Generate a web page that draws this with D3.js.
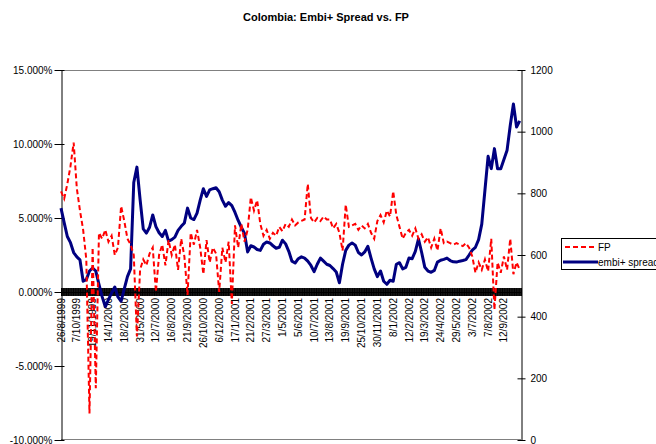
<!DOCTYPE html>
<html>
<head>
<meta charset="utf-8">
<script src="https://cdn.jsdelivr.net/npm/d3@7"></script>
<style>
  body { margin: 0; background: #fff; }
  svg { font-family: "Liberation Sans", Arial, Helvetica, sans-serif; }
  .axis text { font-size: 10px; fill: #000; }
  .axis path, .axis line { stroke: #000; }
</style>
</head>
<body>
<div id="chart"></div>
<script>
// Data: one value every 5 trading days, 26/8/1999 .. 9/2002
var obsStep = 5;
var obsCount = 727;
var labelStep = 25;

var dateLabels = ["26/8/1999", "7/10/1999", "19/11/1999", "14/1/2000", "18/2/2000", "31/5/2000",
    "12/7/2000", "16/8/2000", "21/9/2000", "26/10/2000", "6/12/2000", "17/1/2001", "21/2/2001",
    "27/3/2001", "1/5/2001", "5/6/2001", "10/7/2001", "13/8/2001", "19/9/2001", "25/10/2001",
    "30/11/2001", "8/1/2002", "12/2/2002", "19/3/2002", "24/4/2002", "29/5/2002", "3/7/2002",
    "7/8/2002", "12/9/2002"];

// FP, in percent (left axis)
var fpValues = [
    6.8, 6.3, 7.3, 8.5, 10.1, 7.0, 5.5, 4.2, 2.2, -8.2,
    3.0, -6.5, 4.0, 3.6, 4.2, 3.4, 3.8, 2.5, 3.0, 5.8,
    4.8, 3.6, 3.2, 2.5, -3.0, 1.5, 2.2, 1.8, 2.6, 3.0,
    0.0, 2.5, 3.2, 1.8, 3.5, 2.5, 3.2, 1.5, 3.6, 2.4,
    -0.2, 4.0, 3.2, 4.2, 3.0, 1.2, 3.5, 2.0, 3.0, 2.6,
    0.0, 3.0, 2.0, 3.4, -0.8, 4.5, 3.0, 4.6, 3.4, 4.2,
    6.4, 5.5, 6.2, 4.6, 3.8, 4.2, 3.6, 4.0, 3.8, 4.4,
    4.1, 4.6, 4.4, 4.9, 4.5, 4.7, 4.8, 4.9, 7.3, 5.0,
    4.7, 5.0, 4.8, 5.1, 4.9, 4.9, 4.3, 4.6, 4.0, 2.8,
    5.9, 4.4, 4.5, 4.6, 4.2, 4.5, 4.3, 4.6, 4.0, 3.6,
    4.8, 5.2, 4.7, 5.5, 5.1, 6.8, 5.2, 4.4, 3.6, 4.0,
    4.2, 3.8, 4.3, 3.6, 3.9, 3.4, 3.7, 3.0, 3.6, 2.8,
    4.3, 3.3, 3.4, 3.3, 3.2, 3.3, 3.2, 3.1, 3.3, 3.0,
    2.4, 1.3, 2.0, 1.5, 2.2, 1.4, 3.6, -1.2, 2.0, 1.3,
    2.4, 1.5, 3.6, 1.2, 2.0, 1.5];

// embi+ spread, basis points (right axis)
var embiValues = [
    752, 705, 660, 640, 608, 594, 584, 515, 520, 548,
    558, 548, 505, 465, 432, 455, 477, 496, 464, 450,
    490, 530, 555, 835, 885, 780, 685, 671, 690, 730,
    692, 672, 660, 680, 645, 650, 658, 680, 693, 704,
    752, 720, 715, 736, 778, 815, 790, 811, 815, 818,
    805, 778, 758, 770, 760, 738, 712, 690, 670, 610,
    630, 626, 618, 615, 635, 642, 639, 630, 622, 625,
    648, 636, 612, 580, 574, 588, 594, 590, 580, 566,
    546, 570, 590, 580, 570, 566, 556, 545, 510, 570,
    615, 632, 639, 632, 608, 600, 610, 628, 590, 555,
    530, 548, 515, 505, 518, 515, 570, 575, 555, 560,
    590, 588, 612, 652, 608, 560, 548, 544, 550, 577,
    583, 586, 590, 582, 578, 577, 580, 582, 585, 600,
    616, 625, 650, 700, 810, 920, 880, 945, 880, 880,
    910, 940, 1020, 1090, 1015, 1035];

var leftTicks = [-10, -5, 0, 5, 10, 15];
var rightTicks = [0, 200, 400, 600, 800, 1000, 1200];

// Variables
var chart_width = 656;
var chart_height = 444;
var plot = { left: 61, right: 521, top: 70, bottom: 440 };

var svg = d3.select("#chart")
    .append("svg")
    .attr("width", chart_width)
    .attr("height", chart_height);

// Scales
var x_scale = d3.scaleLinear()
    .domain([0, obsCount])
    .range([plot.left, plot.right]);

var y_left = d3.scaleLinear()
    .domain([-10, 15])
    .range([plot.bottom, plot.top]);

var y_right = d3.scaleLinear()
    .domain([0, 1200])
    .range([plot.bottom, plot.top]);

// Title
svg.append("text")
    .attr("x", 243)
    .attr("y", 21)
    .style("font-size", "11px")
    .style("font-weight", "bold")
    .text("Colombia: Embi+ Spread vs. FP");

// Plot frame top / bottom (grey)
svg.append("line")
    .attr("x1", plot.left).attr("x2", plot.right)
    .attr("y1", plot.top + 0.5).attr("y2", plot.top + 0.5)
    .attr("stroke", "#808080");
svg.append("line")
    .attr("x1", plot.left).attr("x2", plot.right)
    .attr("y1", plot.bottom - 0.5).attr("y2", plot.bottom - 0.5)
    .attr("stroke", "#808080");

// Left axis
var left_axis = d3.axisLeft(y_left)
    .tickValues(leftTicks)
    .tickSizeInner(7)
    .tickSizeOuter(0)
    .tickPadding(5)
    .tickFormat(function(d){ return d.toFixed(3) + "%"; });
var gl = svg.append("g")
    .attr("class", "axis")
    .attr("transform", "translate(" + (plot.left + 0.5) + ",0)")
    .call(left_axis);
gl.selectAll(".tick line").attr("x1", 3);
gl.selectAll(".tick text").attr("x", -9);

// Right axis
var right_axis = d3.axisRight(y_right)
    .tickValues(rightTicks)
    .tickSizeInner(4)
    .tickSizeOuter(0)
    .tickPadding(5)
    .tickFormat(d3.format("d"));
var gr = svg.append("g")
    .attr("class", "axis")
    .attr("transform", "translate(" + (plot.right + 0.5) + ",0)")
    .call(right_axis);
gr.selectAll(".tick line").attr("x1", -4);
gr.selectAll(".tick text").attr("x", 9);

// Category axis on the 0% line: one cross tick per trading day
var x_axis = d3.axisBottom(x_scale)
    .tickValues(d3.range(0, obsCount + 1))
    .tickSizeInner(8)
    .tickSizeOuter(0)
    .tickFormat("");
svg.append("g")
    .attr("class", "axis x-axis")
    .attr("transform", "translate(0," + (y_left(0) - 4) + ")")
    .call(x_axis)
    .select(".domain")
    .attr("transform", "translate(0,4)");

// Date labels
svg.append("g").selectAll("text")
    .data(dateLabels)
    .enter()
    .append("text")
    .style("font-size", "10px")
    .attr("text-anchor", "end")
    .attr("dy", "0.35em")
    .attr("transform", function(d, i){
        return "translate(" + x_scale(i * labelStep) + "," + (y_left(0) + 6) + ") rotate(-90)";
    })
    .text(function(d){ return d; });

// Lines
var embi_line = d3.line()
    .x(function(d, i){ return x_scale(i * obsStep); })
    .y(function(d){ return y_right(d); });

var fp_line = d3.line()
    .x(function(d, i){ return x_scale(i * obsStep); })
    .y(function(d){ return y_left(d); });

svg.append("path")
    .datum(embiValues)
    .attr("d", embi_line)
    .attr("fill", "none")
    .attr("stroke", "#000080")
    .attr("stroke-width", 3)
    .attr("stroke-linejoin", "round");

svg.append("path")
    .datum(fpValues)
    .attr("d", fp_line)
    .attr("fill", "none")
    .attr("stroke", "#ff0000")
    .attr("stroke-width", 2)
    .attr("stroke-dasharray", "5,3");

// Legend
var legend = svg.append("g").attr("transform", "translate(561,238)");
legend.append("rect")
    .attr("x", 0.5).attr("y", 0.5)
    .attr("width", 110).attr("height", 31)
    .attr("fill", "#fff")
    .attr("stroke", "#000");
legend.append("line")
    .attr("x1", 4).attr("x2", 33).attr("y1", 9).attr("y2", 9)
    .attr("stroke", "#ff0000").attr("stroke-width", 2)
    .attr("stroke-dasharray", "5,3");
legend.append("text")
    .attr("x", 37).attr("y", 9).attr("dy", "0.35em")
    .style("font-size", "10px")
    .text("FP");
legend.append("line")
    .attr("x1", 2).attr("x2", 37).attr("y1", 24).attr("y2", 24)
    .attr("stroke", "#000080").attr("stroke-width", 3);
legend.append("text")
    .attr("x", 37).attr("y", 24).attr("dy", "0.35em")
    .style("font-size", "10px")
    .text("embi+ spread");
</script>
</body>
</html>
